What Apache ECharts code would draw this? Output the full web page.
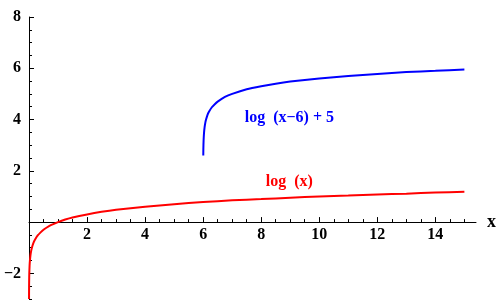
<!DOCTYPE html>
<html><head><meta charset="utf-8">
<script src="https://cdn.jsdelivr.net/npm/echarts@6/dist/echarts.min.js"></script>
<style>html,body{margin:0;padding:0;background:#fff;overflow:hidden}#c{width:500px;height:308px}</style>
</head><body><div id="c"></div>
<script>
// Red curve: log(x)
const redX = [0.001, 0.002, 0.003, 0.005, 0.01, 0.02, 0.03, 0.05, 0.07, 0.1, 0.15, 0.2, 0.3, 0.4, 0.5, 0.6, 0.75, 1, 1.25, 1.5, 2, 2.5, 3, 4, 5, 6, 7, 8, 9, 10, 11, 12, 13, 14, 15];
const redY = [-3, -2.7, -2.52, -2.3, -2, -1.7, -1.52, -1.3, -1.15, -1, -0.82, -0.7, -0.52, -0.4, -0.3, -0.22, -0.12, 0, 0.1, 0.18, 0.3, 0.4, 0.48, 0.6, 0.7, 0.78, 0.85, 0.9, 0.95, 1, 1.04, 1.08, 1.11, 1.15, 1.18];
// Blue curve: log(x-6)+5
const blueX = [6.004, 6.007, 6.01, 6.015, 6.02, 6.03, 6.05, 6.075, 6.1, 6.15, 6.2, 6.3, 6.4, 6.5, 6.75, 7, 7.5, 8, 8.5, 9, 10, 11, 12, 13, 14, 15];
const blueY = [2.6, 2.85, 3, 3.18, 3.3, 3.48, 3.7, 3.88, 4, 4.18, 4.3, 4.48, 4.6, 4.7, 4.88, 5, 5.18, 5.3, 5.4, 5.48, 5.6, 5.7, 5.78, 5.85, 5.9, 5.95];
// Ticks
const xMajor = [2, 4, 6, 8, 10, 12, 14];
const xMinor = [0.5, 1, 1.5, 2.5, 3, 3.5, 4.5, 5, 5.5, 6.5, 7, 7.5, 8.5, 9, 9.5, 10.5, 11, 11.5, 12.5, 13, 13.5, 14.5, 15];
const yMajor = [-2, 2, 4, 6, 8];
const yMinor = [-3, -2.5, -1.5, -1, -0.5, 0.5, 1, 1.5, 2.5, 3, 3.5, 4.5, 5, 5.5, 6.5, 7, 7.5];
// Annotations
const redLabel = 'log  (x)';
const blueLabel = 'log  (x\u22126) + 5';
const redLabelAt = [8.97, 1.56];
const blueLabelAt = [8.97, 4.06];

const X_MIN = 0, X_MAX = 15.4, Y_MIN = -3, Y_MAX = 8;
const font = {fontFamily: 'Liberation Serif', fontWeight: 'bold', fontSize: 16, color: '#000'};
const chart = echarts.init(document.getElementById('c'), null, {renderer: 'canvas'});
const zip = (a, b) => a.map((v, i) => [v, b[i]]);
const H = 308, TOP = 17, BOTTOM = 9;
const zeroRow = TOP + (H - TOP - BOTTOM) * (Y_MAX - 0) / (Y_MAX - Y_MIN);
chart.setOption({
  animation: false,
  backgroundColor: '#fff',
  grid: [
    {left: 29, right: 24, top: TOP, bottom: BOTTOM, containLabel: false, outerBoundsMode: 'none'},
    {left: 29, right: 24, top: TOP, bottom: H - zeroRow, containLabel: false, outerBoundsMode: 'none'}
  ],
  xAxis: [
    {gridIndex: 0, type: 'value', min: X_MIN, max: X_MAX, show: false, axisLine: {onZero: false}},
    {gridIndex: 1, type: 'value', min: X_MIN, max: X_MAX, position: 'bottom',
     axisLine: {show: true, onZero: false, lineStyle: {color: '#000', width: 1}},
     axisTick: {show: true, inside: true, length: 5, customValues: xMajor, lineStyle: {color: '#000'}},
     axisLabel: Object.assign({customValues: xMajor, margin: 5}, font),
     splitLine: {show: false},
     name: 'x', nameLocation: 'end', nameGap: 11,
     nameTextStyle: {fontFamily: 'Liberation Serif', fontWeight: 'bold', fontSize: 18, color: '#000'}},
    {gridIndex: 1, type: 'value', min: X_MIN, max: X_MAX, position: 'bottom',
     axisLine: {show: false, onZero: false},
     axisTick: {show: true, inside: true, length: 3, customValues: xMinor, lineStyle: {color: '#000'}},
     axisLabel: {show: false}, splitLine: {show: false}}
  ],
  yAxis: [
    {gridIndex: 0, type: 'value', min: Y_MIN, max: Y_MAX, position: 'left',
     axisLine: {show: true, onZero: false, lineStyle: {color: '#000', width: 1}},
     axisTick: {show: true, inside: true, length: 5, customValues: yMajor, lineStyle: {color: '#000'}},
     axisLabel: Object.assign({customValues: yMajor, margin: 8, formatter: v => String(v).replace('-', '\u2212')}, font),
     splitLine: {show: false}},
    {gridIndex: 0, type: 'value', min: Y_MIN, max: Y_MAX, position: 'left',
     axisLine: {show: false, onZero: false},
     axisTick: {show: true, inside: true, length: 3, customValues: yMinor, lineStyle: {color: '#000'}},
     axisLabel: {show: false}, splitLine: {show: false}},
    {gridIndex: 1, type: 'value', min: 0, max: 1, show: false}
  ],
  series: [
    {type: 'line', xAxisIndex: 0, yAxisIndex: 0, data: zip(redX, redY), showSymbol: false, symbol: 'none',
     smooth: 0.2, lineStyle: {color: '#ff0000', width: 2}, clip: true,
     markPoint: {symbol: 'circle', symbolSize: 0, silent: true,
       label: {show: true, position: 'inside', formatter: redLabel, color: '#ff0000', fontFamily: 'Liberation Serif', fontWeight: 'bold', fontSize: 16},
       data: [{coord: redLabelAt}]}},
    {type: 'line', xAxisIndex: 0, yAxisIndex: 0, data: zip(blueX, blueY), showSymbol: false, symbol: 'none',
     smooth: 0.2, lineStyle: {color: '#0000ff', width: 2}, clip: true,
     markPoint: {symbol: 'circle', symbolSize: 0, silent: true,
       label: {show: true, position: 'inside', formatter: blueLabel, color: '#0000ff', fontFamily: 'Liberation Serif', fontWeight: 'bold', fontSize: 16},
       data: [{coord: blueLabelAt}]}}
  ]
});
</script></body></html>
